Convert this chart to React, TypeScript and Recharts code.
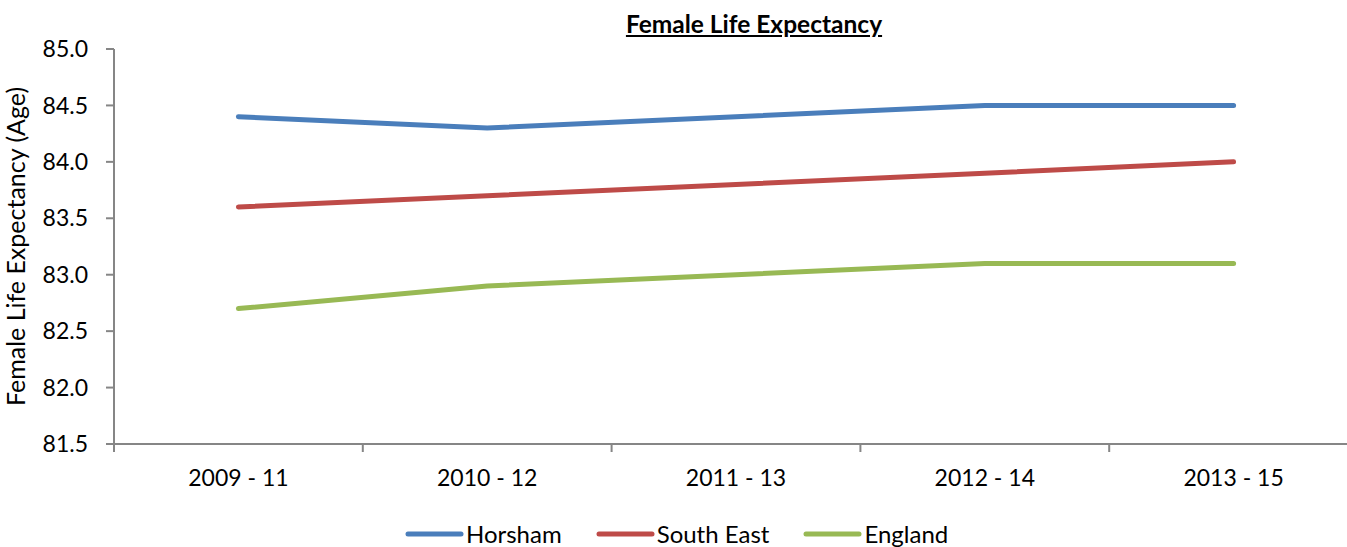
import { LineChart, Line, XAxis, YAxis } from "recharts";

// ─── Data ───────────────────────────────────────────────
const periods = ["2009 - 11", "2010 - 12", "2011 - 13", "2012 - 14", "2013 - 15"];
const horsham = [84.4, 84.3, 84.4, 84.5, 84.5];
const southEast = [83.6, 83.7, 83.8, 83.9, 84.0];
const england = [82.7, 82.9, 83.0, 83.1, 83.1];
const yTicks = [81.5, 82.0, 82.5, 83.0, 83.5, 84.0, 84.5, 85.0];

const series = [
    { key: "horsham", name: "Horsham", color: "#4A7EBB" },
    { key: "southEast", name: "South East", color: "#BE4B48" },
    { key: "england", name: "England", color: "#98B954" },
];

// categories sit in the middle of each band, ticks on the band edges
const data = periods.map((p, i) => ({
    pos: i + 0.5,
    period: p,
    horsham: horsham[i],
    southEast: southEast[i],
    england: england[i],
}));
const xTicks: number[] = [];
for (let i = 0; i <= periods.length; i++) {
    xTicks.push(i);
    if (i < periods.length) xTicks.push(i + 0.5);
}

const FONT = "Lato, 'Open Sans', sans-serif";
const AXIS = "#868686";

// ─── X tick: boundary marks + centred labels ────────────
function XTick(props: any) {
    const { x, y, payload } = props;
    const v = payload.value as number;
    if (Number.isInteger(v)) {
        return <line x1={x} x2={x} y1={y} y2={y + 8} stroke={AXIS} strokeWidth={2} />;
    }
    return (
        <text x={x} y={y + 42} textAnchor="middle" fontSize={23} fontFamily={FONT} fill="#000">
            {periods[Math.floor(v)]}
        </text>
    );
}

export default function App() {
    return (
        <div
            style={{
                position: "absolute",
                left: 0,
                top: 0,
                width: 1347,
                height: 547,
                overflow: "hidden",
                background: "#fff",
                fontFamily: FONT,
            }}
        >
            <div
                style={{
                    position: "absolute",
                    top: 9,
                    left: 554,
                    width: 400,
                    textAlign: "center",
                    fontSize: 24.5,
                    fontWeight: 700,
                    textDecoration: "underline",
                    color: "#000",
                }}
            >
                Female Life Expectancy
            </div>

            <LineChart
                width={1360}
                height={547}
                data={data}
                margin={{ top: 49, right: 2, bottom: 53, left: 0 }}
            >
                <XAxis
                    dataKey="pos"
                    type="number"
                    domain={[0, periods.length]}
                    ticks={xTicks}
                    interval={0}
                    tick={<XTick />}
                    tickLine={false}
                    tickSize={0}
                    tickMargin={0}
                    height={50}
                    axisLine={{ stroke: AXIS, strokeWidth: 2 }}
                />
                <YAxis
                    domain={[81.5, 85]}
                    ticks={yTicks}
                    interval={0}
                    width={114}
                    tickFormatter={(v: number) => v.toFixed(1)}
                    tick={{ fontSize: 23, fontFamily: FONT, fill: "#000" }}
                    tickSize={8}
                    tickMargin={18}
                    tickLine={{ stroke: AXIS, strokeWidth: 2 }}
                    axisLine={{ stroke: AXIS, strokeWidth: 2 }}
                    label={{
                        value: "Female Life Expectancy (Age)",
                        angle: -90,
                        position: "insideLeft",
                        offset: 16,
                        style: { textAnchor: "middle", fontSize: 25, fontFamily: FONT, fill: "#000" },
                    }}
                />
                {series.map((s) => (
                    <Line
                        key={s.key}
                        type="linear"
                        dataKey={s.key}
                        name={s.name}
                        stroke={s.color}
                        strokeWidth={5}
                        strokeLinecap="round"
                        dot={false}
                        activeDot={false}
                        isAnimationActive={false}
                    />
                ))}
            </LineChart>

            {/* Legend */}
            <div
                style={{
                    position: "absolute",
                    top: 522,
                    left: 405,
                    display: "flex",
                    alignItems: "center",
                    gap: 34,
                    fontSize: 24,
                    color: "#000",
                    whiteSpace: "nowrap",
                }}
            >
                {series.map((s) => (
                    <div key={s.key} style={{ display: "flex", alignItems: "center", height: 24 }}>
                        <svg width={59} height={10}>
                            <line x1={3} x2={56} y1={5} y2={5} stroke={s.color} strokeWidth={5} strokeLinecap="round" />
                        </svg>
                        <span style={{ marginLeft: 2, lineHeight: "24px" }}>{s.name}</span>
                    </div>
                ))}
            </div>
        </div>
    );
}
